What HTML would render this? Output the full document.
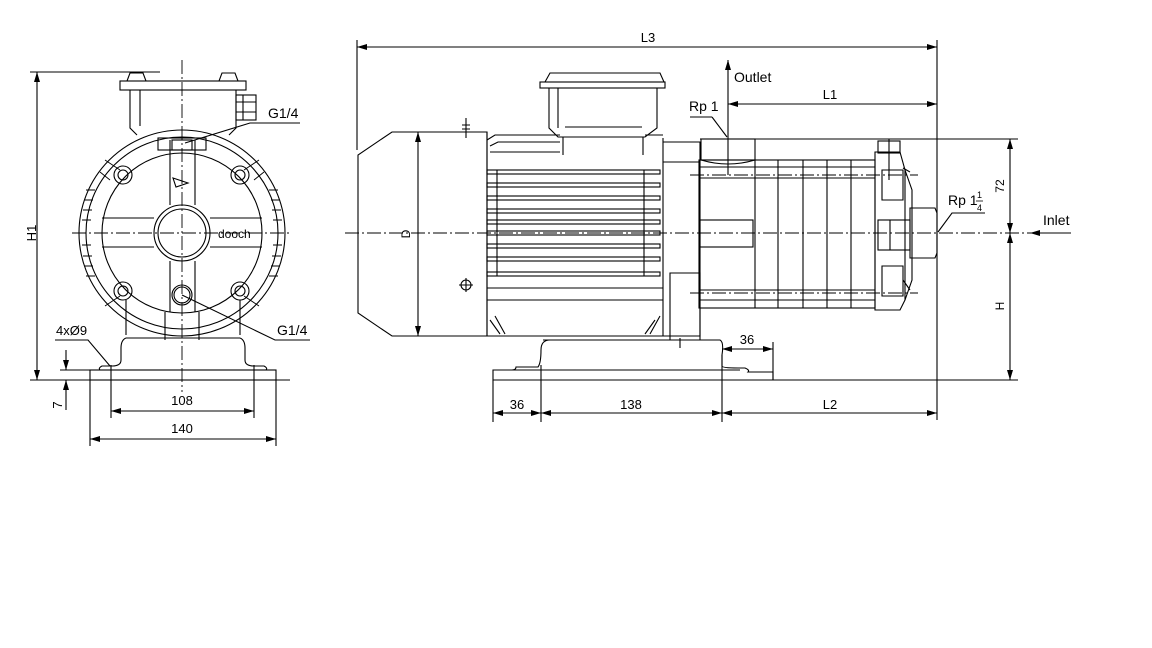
<!DOCTYPE html>
<html><head><meta charset="utf-8"><style>
html,body{margin:0;padding:0;background:#fff}
svg{display:block}
text{font-family:"Liberation Sans",sans-serif;font-size:14px;fill:#000}
</style></head><body>
<svg width="1152" height="648" viewBox="0 0 1152 648" xmlns="http://www.w3.org/2000/svg">
<defs>
<marker id="a" markerWidth="10" markerHeight="6" refX="10" refY="3" orient="auto-start-reverse" markerUnits="userSpaceOnUse"><path d="M0,0 L10,3 L0,6z" fill="#000"/></marker>
</defs>
<g fill="none" stroke="#000" stroke-width="1.1">
<!-- LEFT VIEW -->
<line x1="182" y1="60" x2="182" y2="392" stroke-dasharray="14,3,2,3" stroke-width="0.9"/>
<line x1="72" y1="233" x2="292" y2="233" stroke-dasharray="14,3,2,3" stroke-width="0.9"/>
<line x1="37" y1="72" x2="37" y2="380" marker-start="url(#a)" marker-end="url(#a)"/>
<line x1="30" y1="72" x2="160" y2="72"/>
<line x1="30" y1="380" x2="290" y2="380"/>
<!-- terminal box -->
<rect x="120" y="81" width="126" height="9"/>
<path d="M127,81 L130,73 L143,73 L146,81 M219,81 L222,73 L235,73 L238,81"/>
<path d="M130,90 L130,128 L137,135 M236,90 L236,128 L229,135 M140,90 L140,126"/>
<rect x="236" y="95" width="20" height="25"/>
<path d="M243,95 V120 M236,102 H256 M236,112 H256"/>
<!-- motor body -->
<circle cx="182" cy="233" r="103"/>
<circle cx="182" cy="233" r="96"/>
<circle cx="182" cy="233" r="80"/>
<g stroke-width="0.9">
<path d="M86,190 H95 M84,200 H93 M83,210 H92 M82,220 H91 M82,245 H91 M83,256 H92 M84,266 H93 M86,276 H95 M278,190 H269 M280,200 H271 M281,210 H272 M282,220 H273 M282,245 H273 M281,256 H272 M280,266 H271 M278,276 H269"/>
<path d="M105,160 L120,170 M100,172 L110,180 M259,160 L244,170 M264,172 L254,180 M105,306 L120,296 M259,306 L244,296"/>
</g>
<!-- bolts -->
<g>
<circle cx="123" cy="175" r="9"/><circle cx="123" cy="175" r="5"/>
<circle cx="240" cy="175" r="9"/><circle cx="240" cy="175" r="5"/>
<circle cx="123" cy="291" r="9"/><circle cx="123" cy="291" r="5"/>
<circle cx="240" cy="291" r="9"/><circle cx="240" cy="291" r="5"/>
</g>
<!-- cross -->
<path d="M170,140 V205 M195,140 V205 M170,261 V312 M195,261 V312"/>
<path d="M102,218 H154 M102,247 H154 M210,218 H262 M210,247 H262"/>
<rect x="158" y="138" width="48" height="12"/>
<rect x="172" y="140" width="20" height="10"/>
<circle cx="182" cy="233" r="28"/>
<circle cx="182" cy="233" r="24"/>
<circle cx="182" cy="295" r="10"/>
<circle cx="182" cy="295" r="8"/>
<path d="M173,178 L188,183 L176,187 Z"/>
<!-- base -->
<path d="M126,300 V335 M240,300 V335 M165,312 V340 M199,312 V340"/>
<path d="M126,338 H240 M126,338 Q121,340 121,348 V360 Q121,366 112,366 H102 Q98,368 100,370 M240,338 Q245,340 245,348 V360 Q245,366 254,366 H264 Q268,368 266,370"/>
<rect x="90" y="370" width="186" height="10"/>
<line x1="111" y1="365" x2="111" y2="418"/>
<line x1="254" y1="365" x2="254" y2="418"/>
<line x1="90" y1="380" x2="90" y2="446"/>
<line x1="276" y1="380" x2="276" y2="446"/>
<line x1="111" y1="411" x2="254" y2="411" marker-start="url(#a)" marker-end="url(#a)"/>
<line x1="90" y1="439" x2="276" y2="439" marker-start="url(#a)" marker-end="url(#a)"/>
<line x1="66" y1="350" x2="66" y2="370" marker-end="url(#a)"/>
<line x1="66" y1="410" x2="66" y2="380" marker-end="url(#a)"/>
<line x1="60" y1="370" x2="110" y2="370"/>
<!-- leaders -->
<path d="M55,340 H88 L110,366"/>
<path d="M300,123 H250 L185,143"/>
<path d="M310,340 H275 L182,295"/>
<!-- RIGHT VIEW -->
<line x1="357" y1="40" x2="357" y2="150"/>
<line x1="937" y1="40" x2="937" y2="420"/>
<line x1="357" y1="47" x2="937" y2="47" marker-start="url(#a)" marker-end="url(#a)"/>
<line x1="345" y1="233" x2="1030" y2="233" stroke-dasharray="14,3,2,3" stroke-width="0.9"/>
<!-- fan cover -->
<path d="M487,132 H392 L358,155 V313 L392,336 H487 Z"/>
<line x1="418" y1="132" x2="418" y2="336" marker-start="url(#a)" marker-end="url(#a)"/>
<path d="M466,123 V132 M462,125 H470 M462,129 H470 M466,118 V138"/>
<circle cx="466" cy="285" r="5"/><path d="M466,278 V292 M459,285 H473"/>
<!-- motor -->
<path d="M487,132 V336 H663 V138"/>
<path d="M487,140 L495,135 H560 M490,146 L498,142 H560 M490,152 H560 M645,135 H663"/>
<g>
<rect x="487" y="170" width="173" height="4"/>
<rect x="487" y="183" width="173" height="4"/>
<rect x="487" y="196" width="173" height="4"/>
<rect x="487" y="209" width="173" height="4"/>
<rect x="487" y="220" width="173" height="4"/>
<rect x="487" y="231" width="173" height="4"/>
<rect x="487" y="244" width="173" height="4"/>
<rect x="487" y="257" width="173" height="4"/>
<rect x="487" y="272" width="173" height="4"/>
</g>
<path d="M487,288 H663 M487,300 H663 M497,170 V276 M644,170 V276"/>
<path d="M490,320 L500,334 M495,316 L505,334 M660,316 L650,334 M655,320 L645,334"/>
<!-- terminal box right -->
<rect x="540" y="82" width="125" height="6"/>
<path d="M545,82 L550,73 L660,73 L664,82"/>
<path d="M549,88 V128 L558,137 H645 L657,128 V88 M558,88 V128 M565,127 H642"/>
<path d="M563,137 V155 M643,137 V155"/>
<!-- adapter -->
<path d="M663,142 H700 V336 H663 M663,162 H700"/>
<path d="M670,273 H700 V340 H670 Z M680,338 V348"/>
<!-- base right -->
<path d="M543,340 H720 Q724,342 722,355 V366 Q722,368 738,368 H745 Q750,370 748,372 H773 V380 H493 V370 H512 Q516,370 516,367 H538 Q541,363 541,350 Q541,340 550,340"/>
<path d="M493,370 H740"/>
<line x1="493" y1="380" x2="493" y2="422"/>
<line x1="541" y1="365" x2="541" y2="422"/>
<line x1="722" y1="355" x2="722" y2="422"/>
<line x1="773" y1="342" x2="773" y2="380"/>
<line x1="493" y1="413" x2="541" y2="413" marker-start="url(#a)" marker-end="url(#a)"/>
<line x1="541" y1="413" x2="722" y2="413" marker-start="url(#a)" marker-end="url(#a)"/>
<line x1="722" y1="413" x2="937" y2="413" marker-start="url(#a)" marker-end="url(#a)"/>
<line x1="722" y1="349" x2="773" y2="349" marker-start="url(#a)" marker-end="url(#a)"/>
<line x1="722" y1="380" x2="1018" y2="380"/>
<!-- pump -->
<line x1="728" y1="60" x2="728" y2="175" marker-start="url(#a)"/>
<line x1="728" y1="104" x2="937" y2="104" marker-start="url(#a)" marker-end="url(#a)"/>
<path d="M712,117 H690"/><path d="M712,117 L727,137"/>
<line x1="700" y1="139" x2="1018" y2="139"/>
<rect x="701" y="139" width="54" height="21"/>
<path d="M701,160 Q728,168 755,160"/>
<rect x="699" y="160" width="176" height="148"/>
<path d="M755,160 V308 M778,160 V308 M803,160 V308 M827,160 V308 M851,160 V308 M699,167 H875 M699,178 H875 M699,290 H875 M699,300 H875"/>
<line x1="690" y1="175" x2="918" y2="175" stroke-dasharray="14,3,2,3" stroke-width="0.9"/>
<line x1="690" y1="293" x2="918" y2="293" stroke-dasharray="14,3,2,3" stroke-width="0.9"/>
<rect x="700" y="220" width="53" height="27"/>
<path d="M875,152 H900 L905,170 V300 L900,310 H875 Z"/>
<rect x="878" y="141" width="22" height="12"/>
<path d="M889,139 V180"/>
<path d="M882,170 H903 V200 H882 Z M882,266 H903 V296 H882 Z"/>
<rect x="878" y="220" width="32" height="30"/>
<path d="M890,220 V250"/>
<path d="M910,208 H935 L937,213 V253 L935,258 H910 Z"/>
<path d="M905,170 L912,190 L912,280 L905,300"/>
<path d="M903,168 L910,172 M903,280 L910,290"/>
<!-- 72 / H -->
<line x1="1010" y1="139" x2="1010" y2="233" marker-start="url(#a)" marker-end="url(#a)"/>
<line x1="1010" y1="233" x2="1010" y2="380" marker-start="url(#a)" marker-end="url(#a)"/>
<line x1="1071" y1="233" x2="1030" y2="233" marker-end="url(#a)"/>
<path d="M985,213 H952 L938,232"/>
</g>
<g>
<text x="36" y="233" transform="rotate(-90 36 233)" text-anchor="middle" style="font-size:13px">H1</text>
<text x="268" y="118" style="font-size:14px">G1/4</text>
<text x="277" y="335" style="font-size:14px">G1/4</text>
<text x="56" y="335" style="font-size:13px">4xØ9</text>
<text x="218" y="238" style="font-size:12px">dooch</text>
<text x="182" y="405" text-anchor="middle" style="font-size:13px">108</text>
<text x="182" y="433" text-anchor="middle" style="font-size:13px">140</text>
<text x="62" y="405" transform="rotate(-90 62 405)" text-anchor="middle" style="font-size:13px">7</text>
<text x="648" y="42" text-anchor="middle" style="font-size:13px">L3</text>
<text x="410" y="234" transform="rotate(-90 410 234)" text-anchor="middle" style="font-size:12px">D</text>
<text x="734" y="82" style="font-size:14px">Outlet</text>
<text x="830" y="99" text-anchor="middle" style="font-size:13px">L1</text>
<text x="689" y="111" style="font-size:14px">Rp 1</text>
<text x="948" y="205" style="font-size:14px">Rp 1</text>
<text x="977" y="198" style="font-size:9px">1</text>
<text x="977" y="211" style="font-size:9px">4</text>
<line x1="976" y1="201" x2="983" y2="201" stroke="#000" stroke-width="0.8"/>
<text x="1043" y="225" style="font-size:14px">Inlet</text>
<text x="1004" y="186" transform="rotate(-90 1004 186)" text-anchor="middle" style="font-size:12px">72</text>
<text x="1004" y="306" transform="rotate(-90 1004 306)" text-anchor="middle" style="font-size:12px">H</text>
<text x="517" y="409" text-anchor="middle" style="font-size:13px">36</text>
<text x="631" y="409" text-anchor="middle" style="font-size:13px">138</text>
<text x="830" y="409" text-anchor="middle" style="font-size:13px">L2</text>
<text x="747" y="344" text-anchor="middle" style="font-size:13px">36</text>
</g>
</svg>
</body></html>
